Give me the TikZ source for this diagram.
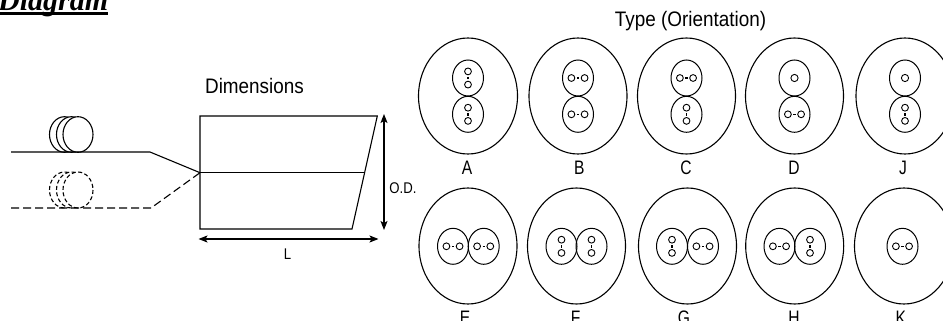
\documentclass[tikz,border=0pt]{standalone}
\usepackage{fontspec}
\usetikzlibrary{arrows.meta}
\setmainfont{Liberation Sans}
\newfontfamily\titlefont{Liberation Serif}
\tikzset{
  outer/.style={line width=1.1pt},
  inner/.style={line width=1pt},
  wire/.style={line width=1.1pt},
  dim/.style={line width=1.1pt,<->,>={Stealth[length=9pt,width=7pt,inset=2pt]}},
  head/.style={anchor=base,xscale=.9,font=\fontsize{21}{21}\selectfont},
  typelabel/.style={anchor=base,xscale=.8,font=\fontsize{19.5}{19.5}\selectfont},
  dimlabel/.style={anchor=base,xscale=.85,font=\fontsize{15.5}{15.5}\selectfont},
  core/.style={line width=.9pt},
  bridge/.style={line width=1.3pt},
  pics/lobeH/.style={code={
    \draw[inner] (0,0) circle (15.5 and 18);
    \draw[core] (-6.6,0) circle (3.4) (6.6,0) circle (3.4);
    \draw[bridge] (-1.2,0) -- (1.2,0);
  }},
  pics/lobeV/.style={code={
    \draw[inner] (0,0) circle (15.5 and 18);
    \draw[core] (0,-6.6) circle (3.4) (0,6.6) circle (3.4);
    \draw[bridge] (0,-1.2) -- (0,1.2);
  }},
  pics/lobeS/.style={code={
    \draw[inner] (0,0) circle (15.5 and 18);
    \draw[core] (0,0) circle (3.6);
  }},
}
\begin{document}
\begin{tikzpicture}[x=1pt,y=-1pt]
\useasboundingbox (0,0) rectangle (943,321);
% title
\node[anchor=base west,inner sep=0pt,font=\fontsize{30}{30}\selectfont\titlefont\bfseries\itshape] (title) at (-2,11) {Diagram};
\draw[line width=3.4pt] (0,13.8) -- (108,13.8);
% rolls
\coordinate (solidL) at (11,152);
\coordinate (solidK) at (150,152);
\coordinate (dashL) at (11,208);
\coordinate (dashK) at (151,208);
\coordinate (entry) at (200,172.7);
\draw[wire] (64.5,134.5) circle (15 and 17.8);
\draw[wire,fill=white] (71.5,134.5) circle (15 and 17.8);
\draw[wire,fill=white] (78,134.5) circle (15 and 17.8);
\draw[wire] (solidL) -- (solidK) -- (entry);
\draw[wire,dash pattern=on 4pt off 2.5pt] (64.5,190) circle (15 and 18);
\draw[wire,dash pattern=on 4pt off 2.5pt,fill=white] (71.5,190) circle (15 and 18);
\draw[wire,dash pattern=on 4pt off 2.5pt,fill=white] (78,190) circle (15 and 18);
\draw[wire,dash pattern=on 8pt off 4pt] (dashL) -- (dashK) -- (entry);
% dimensions
\node[head] (dimensions) at (254.5,94) {Dimensions};
\coordinate (boxTL) at (200,116);
\coordinate (boxTR) at (377.3,116);
\coordinate (boxBR) at (352,229);
\coordinate (boxBL) at (200,229);
\coordinate (midR) at (364,172.7);
\draw[wire] (boxTL) -- (boxTR) -- (boxBR) -- (boxBL) -- cycle;
\draw[wire] (entry) -- (midR);
\coordinate (odT) at (384,114);
\coordinate (odB) at (384,230);
\coordinate (lenL) at (198.5,239);
\coordinate (lenR) at (378.5,239);
\draw[dim] (odT) -- (odB);
\draw[dim] (lenL) -- (lenR);
\node[dimlabel] (labelOD) at (403,193) {O.D.};
\node[dimlabel] (labelL) at (287.5,259) {L};
% types, top row
\node[head] (typehead) at (690.5,26.7) {Type (Orientation)};
\draw[outer] (468,96) circle (49.5 and 58);
\pic at (468,78) {lobeV};
\pic at (468,114.3) {lobeV};
\node[typelabel] (labelA) at (467,174) {A};
\draw[outer] (578,96) circle (49 and 58);
\pic at (578,78) {lobeH};
\pic at (578,114.3) {lobeH};
\node[typelabel] (labelB) at (579.3,174) {B};
\draw[outer] (686.5,96) circle (49 and 58);
\pic at (686.5,78) {lobeH};
\pic at (686.5,114.3) {lobeV};
\node[typelabel] (labelC) at (686,174) {C};
\draw[outer] (794.5,96) circle (49 and 58);
\pic at (794.5,78) {lobeS};
\pic at (794.5,114.3) {lobeH};
\node[typelabel] (labelD) at (794,174) {D};
\draw[outer] (905,96) circle (49 and 58);
\pic at (905,78) {lobeS};
\pic at (905,114.3) {lobeV};
\node[typelabel] (labelJ) at (903,174) {J};
% types, bottom row
\draw[outer] (468,246) circle (49 and 58);
\pic at (453,246.3) {lobeH};
\pic at (483.7,246.3) {lobeH};
\node[typelabel] (labelE) at (465,324) {E};
\draw[outer] (576.5,246) circle (49 and 58);
\pic at (561.5,246.3) {lobeV};
\pic at (591.5,246.3) {lobeV};
\node[typelabel] (labelF) at (575.7,324) {F};
\draw[outer] (687.5,246) circle (49 and 58);
\pic at (672,246.3) {lobeV};
\pic at (703,246.3) {lobeH};
\node[typelabel] (labelG) at (684,324) {G};
\draw[outer] (794.7,246) circle (49 and 58);
\pic at (779.5,246.3) {lobeH};
\pic at (810,246.3) {lobeV};
\node[typelabel] (labelH) at (794,324) {H};
\draw[outer] (904,246) circle (49.5 and 58);
\pic at (902.5,246.3) {lobeH};
\node[typelabel] (labelK) at (900.7,324) {K};
\end{tikzpicture}
\end{document}
